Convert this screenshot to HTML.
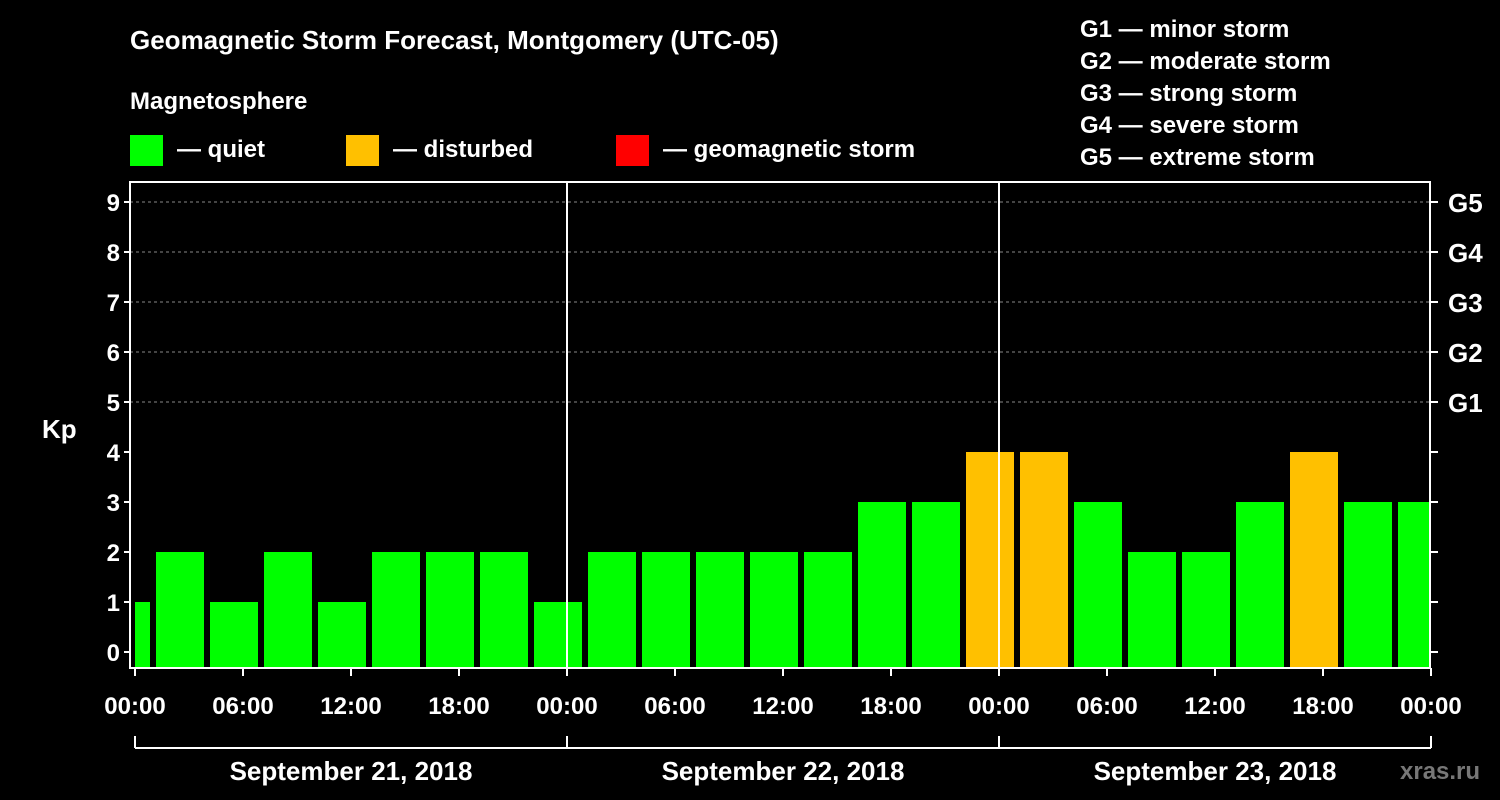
<!DOCTYPE html>
<html><head><meta charset="utf-8"><style>
body{margin:0;background:#000;width:1500px;height:800px;overflow:hidden}
svg{display:block}
text{font-family:"Liberation Sans",sans-serif;font-weight:bold;fill:#fff}
</style></head><body>
<svg id="c" width="1500" height="800">
<text x="130" y="49" font-size="26">Geomagnetic Storm Forecast, Montgomery (UTC-05)</text>
<text x="130" y="109" font-size="24">Magnetosphere</text>
<rect x="130" y="135" width="33" height="31" fill="#00ff00"/>
<text x="177" y="157" font-size="24">— quiet</text>
<rect x="346" y="135" width="33" height="31" fill="#ffc000"/>
<text x="393" y="157" font-size="24">— disturbed</text>
<rect x="616" y="135" width="33" height="31" fill="#ff0000"/>
<text x="663" y="157" font-size="24">— geomagnetic storm</text>
<g font-size="24">
<text x="1080" y="37">G1 — minor storm</text>
<text x="1080" y="69">G2 — moderate storm</text>
<text x="1080" y="101">G3 — strong storm</text>
<text x="1080" y="133">G4 — severe storm</text>
<text x="1080" y="165">G5 — extreme storm</text>
</g>
<text x="42" y="438" font-size="26">Kp</text>
<text x="1400" y="779" font-size="24" fill="#777" style="fill:#777">xras.ru</text>
<g id="plot"></g>
</svg>
<script>
const values=[1,2,1,2,1,2,2,2,1,2,2,2,2,2,3,3,4,4,3,2,2,3,4,3,3];
const startHour=-2;
const dayLabels=["September 21, 2018","September 22, 2018","September 23, 2018"];
const xTickLabels=["00:00","06:00","12:00","18:00"];
const gLabels=["G1","G2","G3","G4","G5"];
const NS="http://www.w3.org/2000/svg";
const g=document.getElementById('plot');
const X0=135,PXH=18,Y0=652,PXK=50,TOP=182,BOT=668,L=130,R=1430;
const x=h=>X0+h*PXH, y=k=>Y0-k*PXK;
function mk(t,a,p){const e=document.createElementNS(NS,t);for(const k in a)e.setAttribute(k,a[k]);(p||g).appendChild(e);return e;}
// grid
for(let k=5;k<=9;k++){const l=mk('line',{x1:L,x2:R,y1:y(k),y2:y(k),stroke:'#888','stroke-dasharray':'3,3','stroke-width':1});

}
// bars
values.forEach((v,i)=>{const h0=Math.max(0,startHour+i*3),h1=Math.min(72,startHour+i*3+3);
const x0=x(h0)+(h0===startHour+i*3?3:0),x1=x(h1)-(h1===startHour+i*3+3?3:2);
const r=mk('rect',{x:x0,y:y(v),width:x1-x0,height:BOT-y(v),fill:v>=5?'#ff0000':v>=4?'#ffc000':'#00ff00'});

});
// frame
const f=mk('rect',{x:L,y:TOP,width:R-L,height:BOT-TOP,fill:'none',stroke:'#fff','stroke-width':2});


for(let d=1;d<3;d++){const l=mk('line',{x1:x(d*24),x2:x(d*24),y1:TOP,y2:BOT,stroke:'#fff','stroke-width':2});

}
// y ticks
for(let k=0;k<=9;k++){
mk('line',{x1:L-6,x2:L,y1:y(k),y2:y(k),stroke:'#fff','stroke-width':2});
mk('line',{x1:R,x2:R+8,y1:y(k),y2:y(k),stroke:'#fff','stroke-width':2});
const t=mk('text',{x:L-10,y:y(k)+9,'font-size':24,'text-anchor':'end'});t.textContent=k;

}
gLabels.forEach((s,i)=>{const t=mk('text',{x:1448,y:y(5+i)+10,'font-size':26});t.textContent=s;

});
// x ticks
for(let h=0;h<=72;h+=6){
mk('line',{x1:x(h),x2:x(h),y1:BOT,y2:BOT+8,stroke:'#fff','stroke-width':2});
const t=mk('text',{x:x(h),y:714,'font-size':24,'text-anchor':'middle'});t.textContent=xTickLabels[(h/6)%4];

}
// day brackets
const bl=mk('line',{x1:x(0),x2:x(72),y1:748,y2:748,stroke:'#fff','stroke-width':2});


for(let d=0;d<=3;d++)mk('line',{x1:x(d*24),x2:x(d*24),y1:736,y2:748,stroke:'#fff','stroke-width':2});
dayLabels.forEach((s,d)=>{const t=mk('text',{x:x(d*24+12),y:780,'font-size':26,'text-anchor':'middle'});t.textContent=s;

});
</script>
</body></html>
